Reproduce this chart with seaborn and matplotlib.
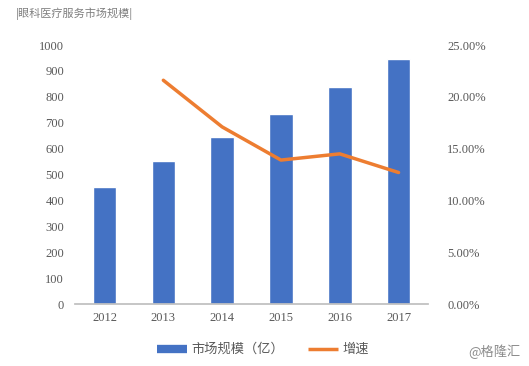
import numpy as np
import pandas as pd
import matplotlib
matplotlib.use("Agg")
import matplotlib.pyplot as plt
import seaborn as sns
from matplotlib.lines import Line2D

years = ["2012", "2013", "2014", "2015", "2016", "2017"]
market_size = [452, 552, 645, 734, 838, 946]
growth_years = ["2013", "2014", "2015", "2016", "2017"]
growth = [0.216, 0.171, 0.139, 0.145, 0.127]
left_ticks = [0, 100, 200, 300, 400, 500, 600, 700, 800, 900, 1000]
right_ticks = [0.0, 0.05, 0.10, 0.15, 0.20, 0.25]

sns.set_theme(style="white")
plt.rcParams['font.family'] = ['Liberation Serif', 'Noto Sans CJK SC', 'DejaVu Sans']

bar_color = "#4472C4"
line_color = "#ED7D31"
tick_color = "#595959"

fig = plt.figure(figsize=(5.29, 3.66), dpi=100)
ax = fig.add_axes([0.142, 0.169, 0.667, 0.708])

df = pd.DataFrame({"year": years, "size": market_size})
sns.barplot(data=df, x="year", y="size", order=years, color=bar_color,
            width=0.4, ax=ax, saturation=1)
ax.set_ylim(0, 1000)
ax.set_yticks(left_ticks)
ax.set_yticklabels([str(t) for t in left_ticks])
ax.set_xlim(-0.5, len(years) - 0.5)
ax.set_xlabel("")
ax.set_ylabel("")
for s in ["top", "right", "left"]:
    ax.spines[s].set_visible(False)
ax.spines["bottom"].set_color("#BFBFBF")
ax.tick_params(axis="both", length=0, labelsize=9, colors=tick_color, pad=8)
ax.tick_params(axis="x", pad=6)

ax2 = ax.twinx()
pos = [years.index(y) for y in growth_years]
gdf = pd.DataFrame({"pos": pos, "growth": growth})
sns.lineplot(data=gdf, x="pos", y="growth", color=line_color, linewidth=2.5, ax=ax2)
ax2.set_ylim(0, 0.25)
ax2.set_yticks(right_ticks)
ax2.set_yticklabels([f"{t*100:.2f}%" for t in right_ticks])
ax2.set_xlim(-0.5, len(years) - 0.5)
ax2.set_ylabel("")
ax2.set_xlabel("")
for s in ["top", "right", "left", "bottom"]:
    ax2.spines[s].set_visible(False)
ax2.tick_params(axis="y", length=0, labelsize=9, colors=tick_color, pad=14)

handles = [Line2D([0], [0], color=bar_color, lw=6, solid_capstyle="butt"),
           Line2D([0], [0], color=line_color, lw=2.5, solid_capstyle="butt")]
fig.legend(handles, ["市场规模（亿）", "增速"], loc="center", bbox_to_anchor=(0.497, 0.044),
           ncol=2, frameon=False, fontsize=9.5, handlelength=2.3, columnspacing=1.8,
           handletextpad=0.3, labelcolor=tick_color)

fig.text(0.03, 0.962, "|眼科医疗服务市场规模|", fontsize=8, color="#7F7F7F",
         ha="left", va="center", family=['Noto Sans CJK SC', 'DejaVu Sans'])
fig.text(0.983, 0.04, "@格隆汇", fontsize=9.5, color="#8C8C8C", ha="right", va="center",
         family=['Noto Sans CJK SC', 'DejaVu Sans'])

fig.savefig("out.png", dpi=100, facecolor="white")
